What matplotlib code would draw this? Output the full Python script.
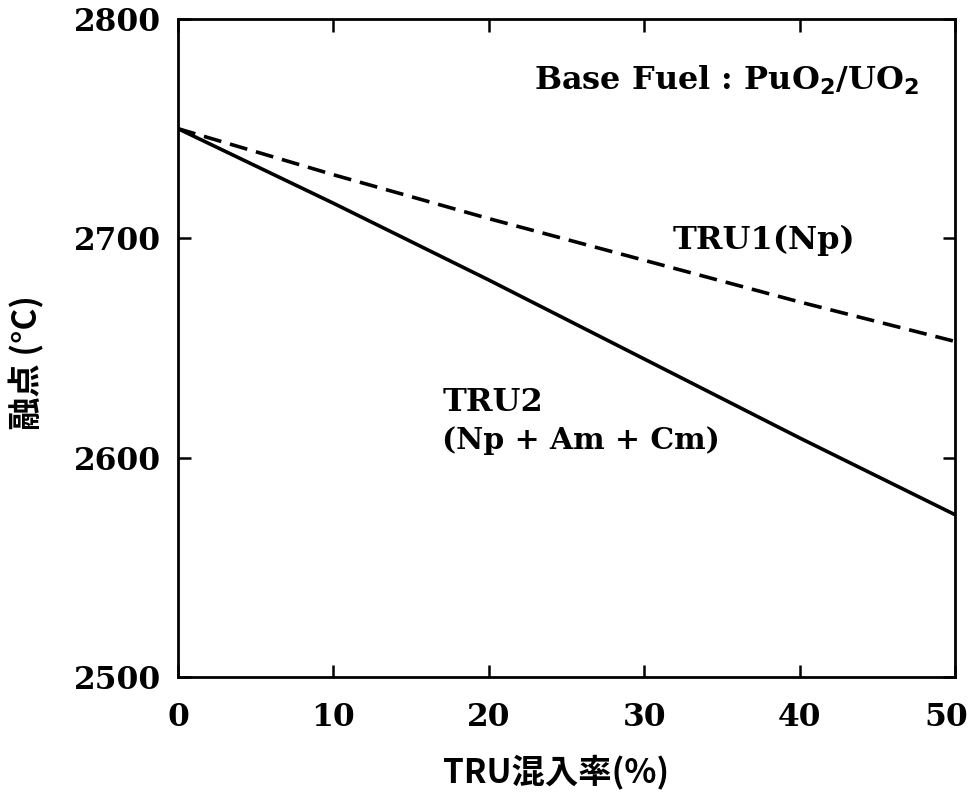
import matplotlib
matplotlib.use("Agg")
import matplotlib.pyplot as plt
from matplotlib.transforms import ScaledTranslation

# Data
x_pct = [0, 10, 20, 30, 40, 50]
tru1_np = [2750, 2729, 2709, 2690, 2671, 2653]
tru2_npamcm = [2750, 2716, 2681, 2645, 2609, 2574]
x_ticks = [0, 10, 20, 30, 40, 50]
y_ticks = [2500, 2600, 2700, 2800]

serif = ['DejaVu Serif']
cjk = ['Noto Sans CJK JP', 'DejaVu Sans']

fig = plt.figure(figsize=(9.70, 8.07), dpi=100)
ax = fig.add_axes([178/970, 1-677/807, (955-178)/970, (677-19)/807])

ax.plot(x_pct, tru2_npamcm, color='black', lw=2.6, solid_capstyle='butt')
ax.plot(x_pct, tru1_np, color='black', lw=2.6, dashes=(5, 2.5))

ax.set_xlim(0, 50)
ax.set_ylim(2500, 2800)
ax.set_xticks(x_ticks)
ax.set_yticks(y_ticks)
for s in ax.spines.values():
    s.set_linewidth(2.0)
ax.tick_params(direction='in', length=9, width=1.8, top=True, right=True)
ax.tick_params(axis='x', pad=18)
ax.tick_params(axis='y', pad=12)
for lab in ax.get_xticklabels() + ax.get_yticklabels():
    lab.set_fontfamily(serif)
    lab.set_fontweight('bold')
    lab.set_fontsize(22.5)
last = ax.get_xticklabels()[-1]
last.set_transform(last.get_transform() + ScaledTranslation(-9/100, 0, fig.dpi_scale_trans))

fig.text(556/970, 1-772/807, 'TRU混入率(%)', family=cjk, fontsize=24, fontweight='bold',
         ha='center', va='center')
fig.text(27/970, 1-363/807, '融点 (°C)', family=cjk, fontsize=24, fontweight='bold',
         ha='center', va='center', rotation=90)

tkw = dict(family=serif, fontweight='bold', fontsize=23, color='black')
ax.text(37.7, 2699, 'TRU1(Np)', ha='center', va='center', **tkw)
ax.text(17.0, 2625, 'TRU2', ha='left', va='center', **tkw)
ax.text(17.0, 2608, '(Np + Am + Cm)', ha='left', va='center', family=serif, fontweight='bold', fontsize=21.5)
ax.text(47.7, 2772, r'Base Fuel : PuO$_\mathbf{2}$/UO$_\mathbf{2}$', ha='right', va='center', **tkw)

fig.savefig('out.png', dpi=100)
